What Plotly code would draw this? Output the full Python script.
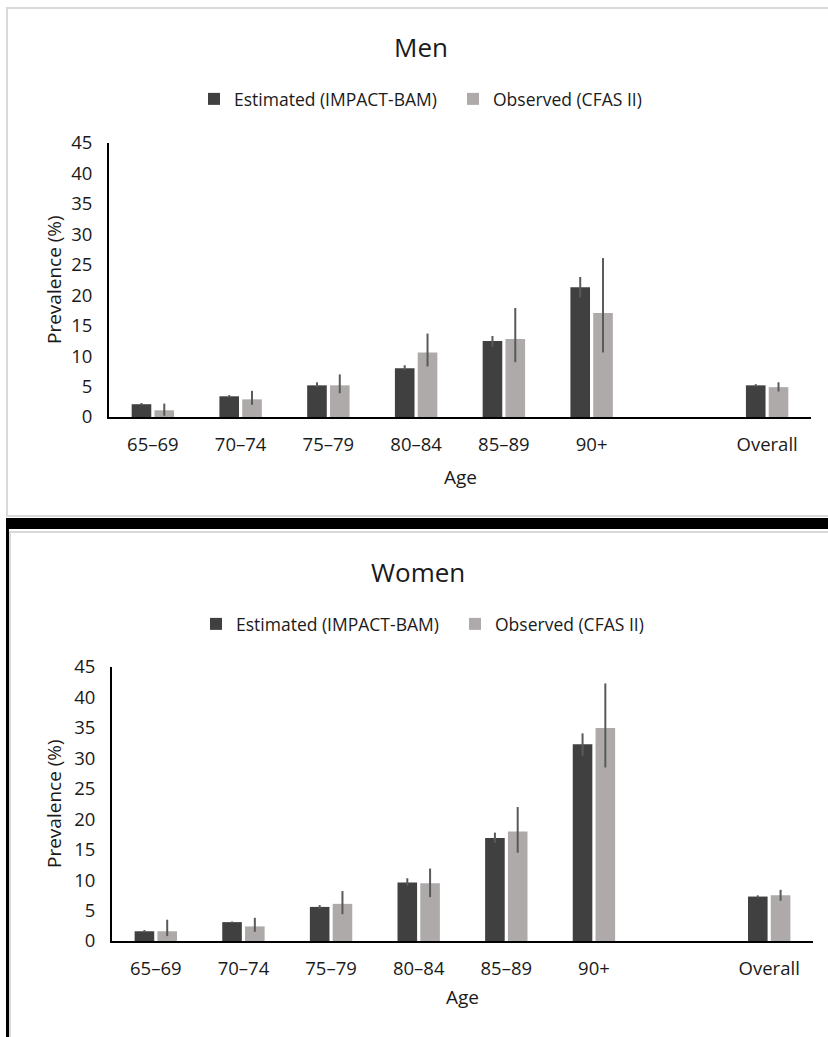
import plotly.graph_objects as go

# ---------------- data ----------------
categories = ["65–69", "70–74", "75–79", "80–84", "85–89", "90+", "", "Overall"]

series_names = ["Estimated (IMPACT-BAM)", "Observed (CFAS II)"]

men_est = [2.1, 3.4, 5.2, 8.0, 12.5, 21.3, None, 5.2]
men_est_lo = [1.9, 3.2, 4.9, 7.7, 11.5, 19.6, None, 5.0]
men_est_hi = [2.3, 3.6, 5.7, 8.5, 13.3, 23.0, None, 5.4]
men_obs = [1.1, 2.9, 5.2, 10.6, 12.8, 17.1, None, 4.9]
men_obs_lo = [0.2, 2.0, 3.9, 8.3, 9.0, 10.6, None, 4.2]
men_obs_hi = [2.2, 4.3, 7.0, 13.7, 17.9, 26.1, None, 5.7]

women_est = [1.6, 3.1, 5.6, 9.6, 16.9, 32.3, None, 7.3]
women_est_lo = [1.4, 3.0, 5.3, 9.1, 16.1, 30.4, None, 7.1]
women_est_hi = [1.8, 3.2, 5.9, 10.3, 17.8, 34.1, None, 7.5]
women_obs = [1.6, 2.4, 6.1, 9.5, 18.0, 35.0, None, 7.5]
women_obs_lo = [0.8, 1.5, 4.4, 7.2, 14.5, 28.5, None, 6.6]
women_obs_hi = [3.5, 3.8, 8.2, 11.9, 22.0, 42.3, None, 8.4]

y_ticks = [0, 5, 10, 15, 20, 25, 30, 35, 40, 45]

# ---------------- style ----------------
W, H = 828, 1037
FONT = "Open Sans"
TXT = "#1a1a1a"
C_EST = "#404040"
C_OBS = "#AEAAAA"
C_ERR = "#595959"

x_pos = list(range(len(categories)))


def up(v, hi):
    return [None if a is None else round(b - a, 3) for a, b in zip(v, hi)]


def down(v, lo):
    return [None if a is None else round(a - b, 3) for a, b in zip(v, lo)]


def px_y(p):
    return 1 - p / H


def px_x(p):
    return p / W


fig = go.Figure()

panels = [
    ("x", "y", "legend", (men_est, men_est_lo, men_est_hi), (men_obs, men_obs_lo, men_obs_hi)),
    ("x2", "y2", "legend2", (women_est, women_est_lo, women_est_hi), (women_obs, women_obs_lo, women_obs_hi)),
]

for xa, ya, lg, est, obs in panels:
    for name, (v, lo, hi), col in zip(series_names, [est, obs], [C_EST, C_OBS]):
        fig.add_trace(go.Bar(
            x=x_pos, y=v, name=name, xaxis=xa, yaxis=ya, legend=lg,
            marker=dict(color=col, line=dict(width=0)),
            error_y=dict(type="data", symmetric=False, array=up(v, hi), arrayminus=down(v, lo),
                         color=C_ERR, thickness=2, width=0),
            hoverinfo="x+y",
        ))

axis_common_x = dict(
    tickmode="array", tickvals=x_pos, ticktext=categories, range=[-0.5, len(categories) - 0.5],
    showline=True, linecolor="#000000", linewidth=2, ticks="", showgrid=False, zeroline=False,
    tickfont=dict(family=FONT, size=18.5, color=TXT), ticklabelstandoff=10, fixedrange=True,
    automargin=False,
)
axis_common_y = dict(
    range=[0, 45], tickmode="array", tickvals=y_ticks,
    showline=True, linecolor="#000000", linewidth=2, ticks="", showgrid=False, zeroline=False,
    tickfont=dict(family=FONT, size=18.5, color=TXT), ticklabelstandoff=11, fixedrange=True,
    automargin=False,
)

# plot area pixel boxes
top_box = dict(x0=109, x1=811, y0=143, y1=417)
bot_box = dict(x0=112, x1=813, y0=667, y1=941)

legend_common = dict(orientation="h", xanchor="left", yanchor="middle",
                     font=dict(family=FONT, size=17.5, color=TXT), bgcolor="rgba(0,0,0,0)",
                     entrywidth=214, entrywidthmode="pixels", itemclick=False, itemdoubleclick=False)

fig.update_layout(
    width=W, height=H,
    margin=dict(l=0, r=0, t=0, b=0, autoexpand=False),
    paper_bgcolor="white", plot_bgcolor="white",
    barmode="group", bargap=0.48, bargroupgap=0.14,
    font=dict(family=FONT, color=TXT),
    xaxis=dict(domain=[px_x(top_box["x0"]), px_x(top_box["x1"])], anchor="y", **axis_common_x),
    yaxis=dict(domain=[px_y(top_box["y1"]), px_y(top_box["y0"])], anchor="x", **axis_common_y),
    xaxis2=dict(domain=[px_x(bot_box["x0"]), px_x(bot_box["x1"])], anchor="y2", **axis_common_x),
    yaxis2=dict(domain=[px_y(bot_box["y1"]), px_y(bot_box["y0"])], anchor="x2", **axis_common_y),
    legend=dict(x=px_x(194), y=px_y(99), **legend_common),
    legend2=dict(x=px_x(196), y=px_y(624), **legend_common),
    showlegend=True,
)

annots = [
    dict(text="Men", x=px_x(421), y=px_y(47), size=26),
    dict(text="Women", x=px_x(418), y=px_y(572), size=26),
    dict(text="Age", x=px_x(460), y=px_y(477), size=19),
    dict(text="Age", x=px_x(462), y=px_y(997), size=19),
]
for a in annots:
    fig.add_annotation(text=a["text"], x=a["x"], y=a["y"], xref="paper", yref="paper",
                       xanchor="center", yanchor="middle", showarrow=False,
                       font=dict(family=FONT, size=a["size"], color=TXT))
for yc in [(top_box["y0"] + top_box["y1"]) / 2, (bot_box["y0"] + bot_box["y1"]) / 2]:
    fig.add_annotation(text="Prevalence (%)", x=px_x(54), y=px_y(yc), xref="paper", yref="paper",
                       xanchor="center", yanchor="middle", textangle=-90, showarrow=False,
                       font=dict(family=FONT, size=19, color=TXT))

# chart-area frames
shapes = [
    dict(type="rect", x0=px_x(7), x1=1.05, y0=px_y(516), y1=px_y(8),
         line=dict(color="#D9D9D9", width=2), fillcolor="rgba(0,0,0,0)"),
    dict(type="rect", x0=px_x(6), x1=1.05, y0=px_y(529), y1=px_y(518),
         line=dict(width=0), fillcolor="#000000"),
    dict(type="rect", x0=px_x(10), x1=1.05, y0=-0.05, y1=px_y(532),
         line=dict(color="#D9D9D9", width=2), fillcolor="rgba(0,0,0,0)"),
    dict(type="rect", x0=px_x(6), x1=px_x(9), y0=-0.05, y1=px_y(518),
         line=dict(width=0), fillcolor="#000000"),
]
for s in shapes:
    fig.add_shape(xref="paper", yref="paper", layer="below", **s)

fig.write_html("out.html")
